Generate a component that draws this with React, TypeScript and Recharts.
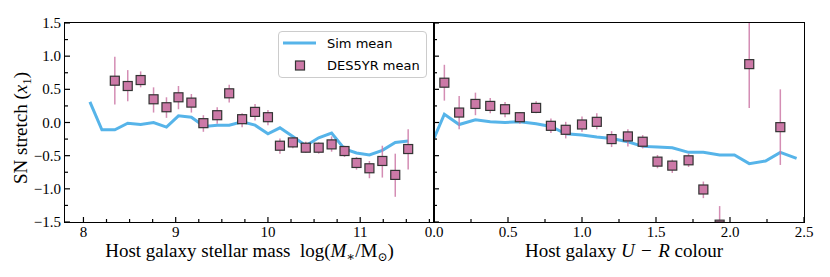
import React from 'react'
import { ComposedChart, Line, Scatter, ErrorBar, XAxis, YAxis, Legend } from 'recharts'

// left panel: stellar mass bins
const massSimX = [8.07, 8.2, 8.34, 8.48, 8.62, 8.76, 8.9, 9.03, 9.17, 9.31, 9.45, 9.58, 9.72, 9.86, 10.0, 10.13, 10.27, 10.41, 10.55, 10.69, 10.83, 10.96, 11.1, 11.24, 11.38, 11.52]
const massSimY = [0.31, -0.11, -0.11, -0.01, -0.03, 0.0, -0.07, 0.1, 0.08, -0.06, -0.04, -0.04, 0.01, -0.04, -0.17, -0.08, -0.21, -0.35, -0.23, -0.16, -0.4, -0.46, -0.49, -0.42, -0.3, -0.28]

const massDesX = [8.34, 8.48, 8.62, 8.76, 8.9, 9.03, 9.17, 9.3, 9.45, 9.58, 9.72, 9.86, 10.0, 10.13, 10.27, 10.41, 10.55, 10.69, 10.83, 10.96, 11.1, 11.24, 11.38, 11.52]
const massDesY = [0.63, 0.55, 0.64, 0.35, 0.23, 0.38, 0.3, -0.01, 0.11, 0.44, 0.05, 0.16, 0.08, -0.35, -0.3, -0.38, -0.38, -0.33, -0.43, -0.61, -0.69, -0.58, -0.79, -0.4]
const massDesHi = [0.99, 0.79, 0.77, 0.53, 0.38, 0.55, 0.43, 0.11, 0.23, 0.57, 0.14, 0.28, 0.19, -0.24, -0.22, -0.29, -0.3, -0.21, -0.35, -0.52, -0.58, -0.35, -0.47, -0.1]
const massDesLo = [0.27, 0.32, 0.53, 0.15, 0.07, 0.2, 0.15, -0.14, -0.02, 0.3, -0.07, 0.03, -0.04, -0.47, -0.39, -0.46, -0.47, -0.44, -0.52, -0.71, -0.84, -0.83, -1.12, -0.71]

// right panel: U-R colour bins (bars running off the plot are cut at the frame)
const colourSimX = [0.0, 0.07, 0.17, 0.28, 0.38, 0.48, 0.58, 0.69, 0.79, 0.89, 1.0, 1.1, 1.2, 1.31, 1.41, 1.51, 1.61, 1.72, 1.82, 1.93, 2.03, 2.13, 2.24, 2.34, 2.45]
const colourSimY = [-0.24, 0.125, -0.03, 0.04, 0.01, 0.0, 0.01, -0.02, -0.06, -0.17, -0.19, -0.22, -0.24, -0.29, -0.36, -0.37, -0.38, -0.45, -0.45, -0.49, -0.49, -0.62, -0.58, -0.45, -0.54]

const colourDesX = [0.07, 0.17, 0.28, 0.38, 0.48, 0.58, 0.69, 0.79, 0.89, 1.0, 1.1, 1.2, 1.31, 1.41, 1.51, 1.61, 1.72, 1.82, 1.93, 2.13, 2.34]
const colourDesY = [0.6, 0.15, 0.28, 0.25, 0.2, 0.08, 0.22, -0.05, -0.11, -0.03, 0.01, -0.25, -0.21, -0.29, -0.59, -0.65, -0.57, -1.01, -1.54, 0.88, -0.07]
const colourDesHi = [0.87, 0.4, 0.45, 0.37, 0.31, 0.16, 0.32, 0.06, 0.01, 0.09, 0.14, -0.13, -0.1, -0.19, -0.49, -0.56, -0.47, -0.89, -1.26, 1.5, 0.5]
const colourDesLo = [0.33, -0.1, 0.11, 0.14, 0.08, -0.02, 0.14, -0.16, -0.24, -0.14, -0.1, -0.37, -0.36, -0.39, -0.69, -0.76, -0.67, -1.14, -1.5, 0.22, -0.64]

// ticks
const yTicks = [-1.5, -1.25, -1, -0.75, -0.5, -0.25, 0, 0.25, 0.5, 0.75, 1, 1.25, 1.5]
const yMajor = [-1.5, -1, -0.5, 0, 0.5, 1, 1.5]
const massTicks = [8, 8.25, 8.5, 8.75, 9, 9.25, 9.5, 9.75, 10, 10.25, 10.5, 10.75, 11, 11.25, 11.5, 11.75]
const massMajor = [8, 9, 10, 11]
const colourTicks = [0, 0.25, 0.5, 0.75, 1, 1.25, 1.5, 1.75, 2, 2.25, 2.5]
const colourMajor = [0, 0.5, 1, 1.5, 2, 2.5]

const SIM_BLUE = '#56B4E9'
const DES_PINK = '#CC79A7'
const SERIF = '"Liberation Serif", "DejaVu Serif", serif'
const SANS = '"DejaVu Sans", sans-serif'
const PLOT_TOP = 23
const PLOT_BOTTOM = 222

const mkLine = (xs: number[], ys: number[]) => xs.map((x, i) => ({ x, y: ys[i] }))
const mkPoints = (xs: number[], ys: number[], lo: number[], hi: number[]) =>
  xs.map((x, i) => ({ x, y: ys[i], err: [ys[i] - lo[i], hi[i] - ys[i]] }))

const massSim = mkLine(massSimX, massSimY)
const massDes = mkPoints(massDesX, massDesY, massDesLo, massDesHi)
const colourSim = mkLine(colourSimX, colourSimY)
const colourDes = mkPoints(colourDesX, colourDesY, colourDesLo, colourDesHi)

const isMajor = (v: number, majors: number[]) => majors.some((m) => Math.abs(m - v) < 1e-6)
const fmt = (digits: number) => (v: number) => (v < -1e-9 ? '\u2212' : '') + Math.abs(v).toFixed(digits)

type Side = 'bottom' | 'top' | 'left' | 'right'

// inward ticks, like matplotlib direction='in'
function makeTick(side: Side, majors: number[], label?: (v: number) => string) {
  return function Tick(props: any) {
    const { x, y, payload } = props
    const v = payload.value
    const major = isMajor(v, majors)
    const len = major ? 5 : 3
    let x2 = x
    let y2 = y
    if (side === 'bottom') y2 = y - len
    if (side === 'top') y2 = y + len
    if (side === 'left') x2 = x + len
    if (side === 'right') x2 = x - len
    return (
      <g>
        <line x1={x} y1={y} x2={x2} y2={y2} stroke="#000" strokeWidth={1.2} />
        {label && major && side === 'bottom' && (
          <text x={x} y={y + 14.5} textAnchor="middle" fontFamily={SERIF} fontSize={15} fill="#000">
            {label(v)}
          </text>
        )}
        {label && major && side === 'left' && (
          <text x={x - 4} y={y + 5} textAnchor="end" fontFamily={SERIF} fontSize={15} fill="#000">
            {label(v)}
          </text>
        )}
      </g>
    )
  }
}

// square marker, cut at the plot frame
const Square = (props: any) => {
  const { cx, cy } = props
  if (cx == null || cy == null) return null
  const top = Math.max(cy - 4.5, PLOT_TOP)
  const bottom = Math.min(cy + 4.5, PLOT_BOTTOM)
  if (bottom <= top) return null
  return <rect x={cx - 4.5} y={top} width={9} height={bottom - top} fill={DES_PINK} stroke="#333" strokeWidth={1.2} />
}

// panel frame (the matplotlib spines), laid over the chart
const Frame = ({ left, right }: { left: number; right: number }) => (
  <div
    style={{
      position: 'absolute',
      left: left - 1,
      top: PLOT_TOP - 1,
      width: right - left + 2,
      height: PLOT_BOTTOM - PLOT_TOP + 2,
      boxSizing: 'border-box',
      border: '1.5px solid #000',
      pointerEvents: 'none',
    }}
  />
)

const MassLabel = () => (
  <text x={249.5} y={257} textAnchor="middle" fontFamily={SERIF} fontSize={19} fill="#000">
    Host galaxy stellar mass{'\u2002'}log(<tspan fontStyle="italic">M</tspan>
    <tspan fontSize={13} dy={4}>∗</tspan>
    <tspan dy={-4}>/M</tspan>
    <tspan fontSize={12} dy={4}>⊙</tspan>
    <tspan dy={-4}>)</tspan>
  </text>
)

const ColourLabel = () => (
  <text x={214} y={257} textAnchor="middle" fontFamily={SERIF} fontSize={19} fill="#000">
    Host galaxy <tspan fontStyle="italic">U</tspan>
    {'\u2004−\u2004'}
    <tspan fontStyle="italic">R</tspan> colour
  </text>
)

const StretchLabel = () => (
  <text x={27} y={128} transform="rotate(-90, 27, 128)" textAnchor="middle" fontFamily={SERIF} fontSize={19} fill="#000">
    SN stretch (<tspan fontStyle="italic">x</tspan>
    <tspan fontSize={13} dy={4}>1</tspan>
    <tspan dy={-4}>)</tspan>
  </text>
)

const LegendBox = () => (
  <div
    style={{
      width: 149,
      height: 47,
      boxSizing: 'border-box',
      border: '1px solid #cccccc',
      borderRadius: 4,
      background: 'rgba(255,255,255,0.8)',
      position: 'relative',
    }}
  >
    <svg width={147} height={45} style={{ position: 'absolute', left: 0, top: 0 }}>
      <line x1={4} x2={37} y1={11} y2={11} stroke={SIM_BLUE} strokeWidth={3} />
      <rect x={16.5} y={29} width={9} height={9} fill={DES_PINK} stroke="#333" strokeWidth={1.2} />
      <text x={48} y={15.5} fontFamily={SANS} fontSize={13} fill="#000">
        Sim mean
      </text>
      <text x={48} y={38} fontFamily={SANS} fontSize={13} fill="#000">
        DES5YR mean
      </text>
    </svg>
  </div>
)

const axisCommon = {
  type: 'number' as const,
  interval: 0 as const,
  allowDataOverflow: true,
  tickSize: 0,
  tickMargin: 0,
  tickLine: false,
  axisLine: false,
}

export default function App() {
  return (
    <div style={{ position: 'absolute', left: 0, top: 0, width: 830, height: 277, background: '#fff' }}>
      <div style={{ position: 'absolute', left: 0, top: 0 }}>
        <ComposedChart width={440} height={277} margin={{ top: PLOT_TOP, right: 6, bottom: 0, left: 0 }}>
          <XAxis
            {...axisCommon}
            dataKey="x"
            domain={[7.8, 11.8]}
            ticks={massTicks}
            height={277 - PLOT_BOTTOM}
            tick={makeTick('bottom', massMajor, (v) => String(v))}
            label={<MassLabel />}
          />
          <XAxis {...axisCommon} xAxisId="t" orientation="top" domain={[7.8, 11.8]} ticks={massTicks} height={0} tick={makeTick('top', massMajor)} />
          <YAxis {...axisCommon} domain={[-1.5, 1.5]} ticks={yTicks} width={65} tick={makeTick('left', yMajor, fmt(1))} label={<StretchLabel />} />
          <YAxis {...axisCommon} yAxisId="r" orientation="right" domain={[-1.5, 1.5]} ticks={yTicks} width={0} tick={makeTick('right', yMajor)} />
          <Line data={massSim} dataKey="y" stroke={SIM_BLUE} strokeWidth={3} dot={false} isAnimationActive={false} />
          <Scatter data={massDes} dataKey="y" shape={Square} isAnimationActive={false}>
            <ErrorBar dataKey="err" direction="y" width={0} stroke={DES_PINK} strokeOpacity={0.85} strokeWidth={1.5} isAnimationActive={false} />
          </Scatter>
          <Legend
            layout="vertical"
            align="center"
            verticalAlign="middle"
            content={<LegendBox />}
            wrapperStyle={{ left: 278, top: 31, width: 149, height: 47 }}
          />
        </ComposedChart>
      </div>
      <div style={{ position: 'absolute', left: 410, top: 0 }}>
        <ComposedChart width={420} height={277} margin={{ top: PLOT_TOP, right: 26, bottom: 0, left: 0 }}>
          <XAxis
            {...axisCommon}
            dataKey="x"
            domain={[0, 2.5]}
            ticks={colourTicks}
            height={277 - PLOT_BOTTOM}
            tick={makeTick('bottom', colourMajor, fmt(1))}
            label={<ColourLabel />}
          />
          <XAxis {...axisCommon} xAxisId="t" orientation="top" domain={[0, 2.5]} ticks={colourTicks} height={0} tick={makeTick('top', colourMajor)} />
          <YAxis {...axisCommon} domain={[-1.5, 1.5]} ticks={yTicks} width={24} tick={makeTick('left', yMajor)} />
          <YAxis {...axisCommon} yAxisId="r" orientation="right" domain={[-1.5, 1.5]} ticks={yTicks} width={0} tick={makeTick('right', yMajor)} />
          <Line data={colourSim} dataKey="y" stroke={SIM_BLUE} strokeWidth={3} dot={false} isAnimationActive={false} />
          <Scatter data={colourDes} dataKey="y" shape={Square} isAnimationActive={false}>
            <ErrorBar dataKey="err" direction="y" width={0} stroke={DES_PINK} strokeOpacity={0.85} strokeWidth={1.5} isAnimationActive={false} />
          </Scatter>
        </ComposedChart>
      </div>
      <Frame left={65} right={434} />
      <Frame left={434} right={804} />
    </div>
  )
}
